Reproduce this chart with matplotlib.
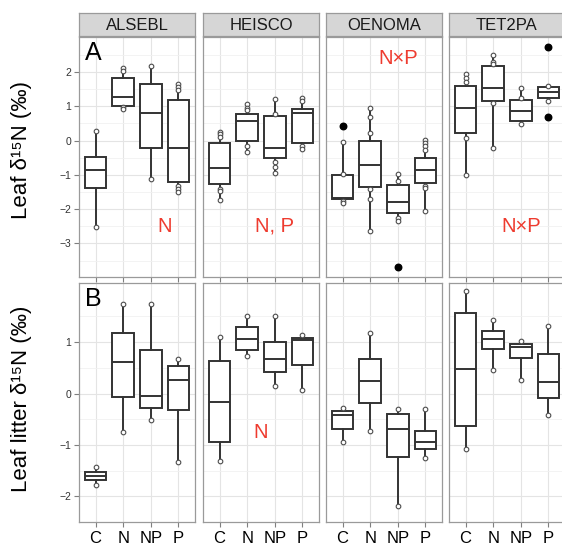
import numpy as np
import matplotlib.pyplot as plt

plt.rcParams['font.family'] = ['Liberation Sans', 'DejaVu Sans']

# ---- data (rows = species, columns = treatments) ----
species = ["ALSEBL", "HEISCO", "OENOMA", "TET2PA"]
treatments = ["C", "N", "NP", "P"]

# leaf d15N box stats
leaf_lo = [[-2.51, 0.91, -1.11, -1.49], [-1.73, -0.34, -0.96, -0.25],
           [-1.81, -2.65, -2.36, -2.05], [-1.00, -0.22, 0.48, 1.14]]
leaf_q1 = [[-1.37, 1.01, -0.21, -1.22], [-1.27, -0.02, -0.50, -0.06],
           [-1.70, -1.36, -2.12, -1.24], [0.21, 1.16, 0.57, 1.23]]
leaf_med = [[-0.85, 1.28, 0.79, -0.21], [-0.81, 0.58, -0.21, 0.80],
            [-1.68, -0.71, -1.79, -0.86], [0.94, 1.52, 0.87, 1.41]]
leaf_q3 = [[-0.47, 1.83, 1.65, 1.18], [-0.06, 0.77, 0.71, 0.91],
           [-1.00, -0.01, -1.29, -0.51], [1.60, 2.16, 1.17, 1.55]]
leaf_hi = [[0.29, 2.11, 2.17, 1.65], [0.25, 1.06, 1.20, 1.25],
           [-0.03, 0.94, -0.97, 0.02], [1.94, 2.50, 1.52, 1.59]]
# visible raw points (outside the boxes)
leaf_pts = [
    [[0.29, -2.51], [2.11, 2.04, 0.97, 0.91], [2.17, -1.11], [1.65, 1.55, 1.48, -1.32, -1.41, -1.49]],
    [[0.25, 0.18, 0.11, -1.42, -1.48, -1.73], [1.06, 0.96, 0.89, -0.15, -0.34],
     [1.20, 0.78, -0.64, -0.76, -0.96], [1.25, 1.14, -0.16, -0.25]],
    [[-0.03, -0.97, -1.76, -1.81], [0.94, 0.70, 0.21, -1.42, -1.70, -2.65],
     [-0.97, -1.19, -2.26, -2.36], [0.02, -0.08, -0.17, -0.27, -1.32, -1.39, -2.05]],
    [[1.94, 1.82, 1.72, 0.07, -1.00], [2.50, 2.30, 2.23, 1.09, -0.22], [1.52, 1.25, 0.48], [1.59, 1.14]],
]
leaf_out = [[[], [], [], []], [[], [], [], []],
            [[0.43], [], [-3.70], []], [[], [], [], [2.74, 0.68]]]

# leaf litter d15N box stats
litter_lo = [[-1.78, -0.75, -0.52, -1.33], [-1.32, 0.73, 0.14, 0.06],
             [-0.95, -0.73, -2.19, -1.26], [-1.07, 0.46, 0.27, -0.42]]
litter_q1 = [[-1.69, -0.07, -0.28, -0.32], [-0.94, 0.85, 0.41, 0.55],
             [-0.69, -0.19, -1.24, -1.08], [-0.63, 0.86, 0.69, -0.09]]
litter_med = [[-1.60, 0.61, -0.05, 0.26], [-0.16, 1.06, 0.67, 1.05],
              [-0.42, 0.25, -0.69, -0.95], [0.48, 1.07, 0.90, 0.23]]
litter_q3 = [[-1.52, 1.18, 0.85, 0.53], [0.64, 1.30, 1.01, 1.08],
             [-0.35, 0.68, -0.40, -0.73], [1.57, 1.21, 0.97, 0.77]]
litter_hi = [[-1.43, 1.74, 1.74, 0.68], [1.09, 1.50, 1.50, 1.13],
             [-0.28, 1.17, -0.30, -0.30], [2.00, 1.43, 1.02, 1.31]]
litter_pts = [[[lo, hi] for lo, hi in zip(a, b)] for a, b in zip(litter_lo, litter_hi)]
litter_out = [[[], [], [], []] for _ in species]

# significance labels
leaf_notes = [("N", 2.5, -2.5), ("N, P", 2.0, -2.5), ("N×P", 2.0, 2.4), ("N×P", 2.0, -2.5)]
litter_notes = [None, ("N", 1.5, -0.75), None, None]

# ---- layout ----
W, H = 562, 554
fig = plt.figure(figsize=(W / 100, H / 100), dpi=100)
lefts = [79, 203, 326, 449]
pw = 116

box_col = "#333333"
red = "#EE3B2F"


def fx(px):
    return px / W


def fy(top, bottom):
    return 1 - bottom / H, (bottom - top) / H


def draw_panel(ax, i, lo, q1, med, q3, hi, pts, out, ylim, yticks):
    ax.set_facecolor("white")
    ax.set_xlim(-0.6, 3.6)
    ax.set_ylim(*ylim)
    ax.set_yticks(yticks)
    ax.set_yticks(np.arange(yticks[0] - 0.5, yticks[-1] + 1, 1.0), minor=True)
    ax.set_xticks(range(4))
    ax.grid(which="major", color="#E4E4E4", lw=0.8, zorder=0)
    ax.grid(which="minor", axis="y", color="#F1F1F1", lw=0.6, zorder=0)
    ax.set_axisbelow(True)
    for s in ax.spines.values():
        s.set_color("#9A9A9A")
        s.set_linewidth(0.9)
    ax.tick_params(which="major", length=3.5, color="#7F7F7F", width=0.8,
                   labelsize=7.5, labelcolor="#333333", pad=2)
    ax.tick_params(which="minor", length=0)

    for j in range(4):
        ax.scatter([j] * len(pts[i][j]), pts[i][j], s=11, facecolor="white",
                   edgecolor="#4D4D4D", linewidth=0.8, zorder=4)
        if out[i][j]:
            ax.scatter([j] * len(out[i][j]), out[i][j], s=22, color="black", zorder=5)

    stats = [dict(whislo=lo[i][j], q1=q1[i][j], med=med[i][j], q3=q3[i][j],
                  whishi=hi[i][j], fliers=[]) for j in range(4)]
    ax.bxp(stats, positions=range(4), widths=0.78, patch_artist=True,
           showcaps=False, showfliers=False,
           boxprops=dict(facecolor="white", edgecolor=box_col, linewidth=1.4),
           medianprops=dict(color=box_col, linewidth=1.4),
           whiskerprops=dict(color=box_col, linewidth=1.4),
           manage_ticks=False, zorder=3)
    ax.set_xticks(range(4))


for i, sp in enumerate(species):
    # strip
    b, h = fy(13, 36)
    sax = fig.add_axes([fx(lefts[i]), b, fx(pw), h])
    sax.set_facecolor("#D6D6D6")
    sax.set_xticks([])
    sax.set_yticks([])
    for s in sax.spines.values():
        s.set_color("#9A9A9A")
        s.set_linewidth(0.9)
    sax.text(0.5, 0.47, sp, ha="center", va="center", fontsize=12,
             color="#1A1A1A", transform=sax.transAxes)

    # leaf panel
    b, h = fy(37, 277)
    ax = fig.add_axes([fx(lefts[i]), b, fx(pw), h])
    draw_panel(ax, i, leaf_lo, leaf_q1, leaf_med, leaf_q3, leaf_hi,
               leaf_pts, leaf_out, (-3.98, 3.02), [-3, -2, -1, 0, 1, 2])
    ax.set_xticklabels([])
    if i > 0:
        ax.set_yticklabels([])
        ax.tick_params(axis="y", length=0)
    txt, x, y = leaf_notes[i]
    ax.text(x, y, txt, color=red, fontsize=14.5, ha="center", va="center", zorder=6)
    if i == 0:
        ax.text(-0.08, 2.55, "A", fontsize=18, ha="center", va="center", zorder=6)

    # litter panel
    b, h = fy(283, 522)
    ax2 = fig.add_axes([fx(lefts[i]), b, fx(pw), h])
    draw_panel(ax2, i, litter_lo, litter_q1, litter_med, litter_q3, litter_hi,
               litter_pts, litter_out, (-2.37, 2.15), [-2, -1, 0, 1])
    ax2.set_xticklabels(treatments, fontsize=12, color="black")
    ax2.tick_params(axis="x", pad=3)
    if i > 0:
        ax2.set_yticklabels([])
        ax2.tick_params(axis="y", length=0)
    if litter_notes[i]:
        txt, x, y = litter_notes[i]
        ax2.text(x, y, txt, color=red, fontsize=14.5, ha="center", va="center", zorder=6)
    if i == 0:
        ax2.text(-0.08, 1.83, "B", fontsize=18, ha="center", va="center", zorder=6)

fig.text(22 / W, 1 - 150 / H, "Leaf δ¹⁵N (‰)", rotation=90, ha="center",
         va="center", fontsize=16)
fig.text(22 / W, 1 - 399 / H, "Leaf litter δ¹⁵N (‰)", rotation=90, ha="center",
         va="center", fontsize=16)

fig.savefig("out.png", dpi=100)
